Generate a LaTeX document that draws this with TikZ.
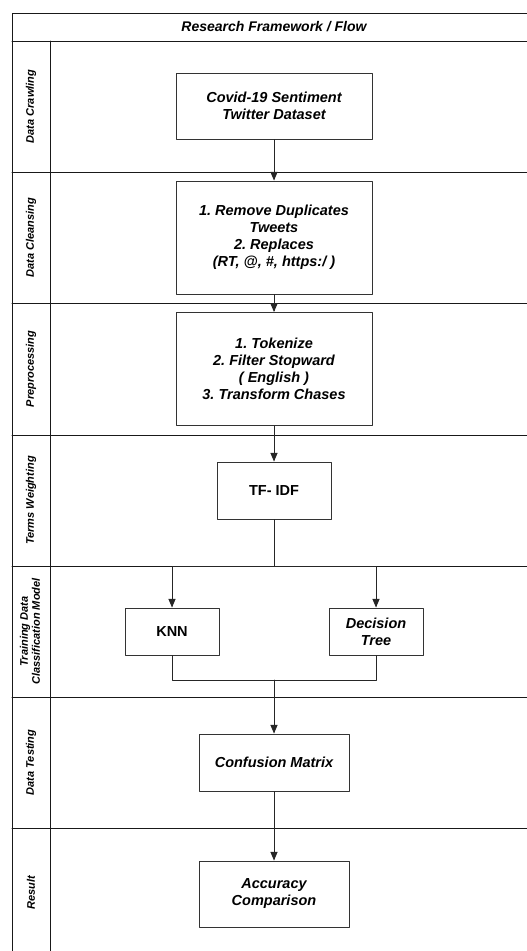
\documentclass[tikz,border=0pt]{standalone}
\usepackage{fontspec}
\setmainfont{Liberation Sans}
\usetikzlibrary{arrows}
\frenchspacing

\tikzset{
  lane/.style={line width=1pt,draw=black!90},
  procbox/.style={draw=black!80,line width=1pt,fill=white,align=center,inner sep=0pt,
    font=\fontsize{14.5}{17}\selectfont\bfseries\itshape},
  lanelabel/.style={rotate=90,align=center,inner sep=0pt,
    font=\fontsize{11}{12}\selectfont\bfseries\itshape},
  flow/.style={line width=1pt,draw=black!85}
}

\begin{document}
\begin{tikzpicture}[line cap=round,line join=round,>=triangle 45,x=1pt,y=-1pt]
\useasboundingbox (0,0) rectangle (527,951);
\draw [lane] (527,13)-- (12,13)-- (12,951);
\draw [lane] (12,41)-- (527,41);
\draw [lane] (50,41)-- (50,951);
\foreach \y in {172,303,435,566,697,828}
  \draw [lane] (12,\y)-- (527,\y);
\node (title) at (274,27) [font=\fontsize{14}{16}\selectfont\bfseries\itshape] {Research Framework / Flow};
\node (lcrawl) at (31,106.5) [lanelabel] {Data Crawling};
\node (lclean) at (31,237.5) [lanelabel] {Data Cleansing};
\node (lprep) at (31,369) [lanelabel] {Preprocessing};
\node (lweight) at (31,500.5) [lanelabel] {Terms Weighting};
\node (ltrain) at (30,631.5) [lanelabel] {Training Data\\Classification Model};
\node (ltest) at (31,762.5) [lanelabel] {Data Testing};
\node (lresult) at (31,892.5) [lanelabel] {Result};
\node (covid) at (274,106) [procbox,minimum width=196,minimum height=66] {Covid-19 Sentiment\\Twitter Dataset};
\node (cleanse) at (274,237.5) [procbox,minimum width=196,minimum height=113] {1. Remove Duplicates\\Tweets\\2. Replaces\\(RT, @, \#, https:/ )};
\node (prep) at (274,369) [procbox,minimum width=196,minimum height=113] {1. Tokenize\\2. Filter Stopward\\( English )\\3. Transform Chases};
\node (tfidf) at (274,490.5) [procbox,minimum width=114,minimum height=57,font=\fontsize{14.5}{17}\selectfont\bfseries] {TF- IDF};
\node (knn) at (172,631.5) [procbox,minimum width=94,minimum height=47,font=\fontsize{14.5}{17}\selectfont\bfseries] {KNN};
\node (dtree) at (376,631.5) [procbox,minimum width=94,minimum height=47] {Decision\\Tree};
\node (confmat) at (274,762.5) [procbox,minimum width=150,minimum height=57] {Confusion Matrix};
\node (accuracy) at (274,894) [procbox,minimum width=150,minimum height=66] {Accuracy\\Comparison};
\coordinate (split) at (274,566);
\coordinate (merge) at (274,680);
\draw [flow,->] (covid)-- (cleanse);
\draw [flow,->] (cleanse)-- (prep);
\draw [flow,->] (prep)-- (tfidf);
\draw [flow] (tfidf)-- (split);
\draw [flow,->] (split) -| (knn);
\draw [flow,->] (split) -| (dtree);
\draw [flow] (knn) |- (merge);
\draw [flow] (dtree) |- (merge);
\draw [flow,->] (merge)-- (confmat);
\draw [flow,->] (confmat)-- (accuracy);
\end{tikzpicture}
\end{document}
